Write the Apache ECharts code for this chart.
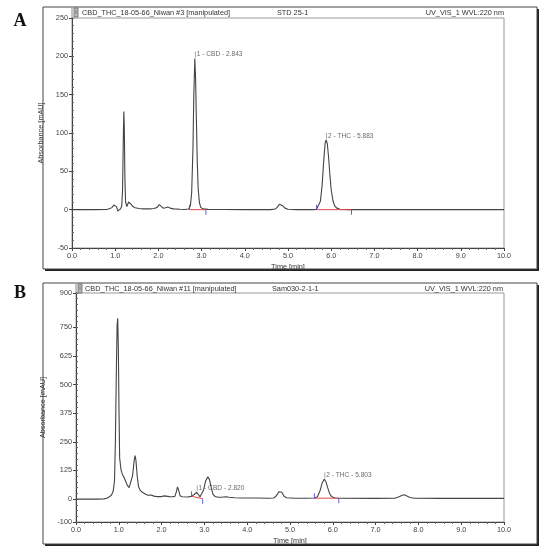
<!DOCTYPE html>
<html><head><meta charset="utf-8">
<script src="https://cdn.jsdelivr.net/npm/echarts@6/dist/echarts.min.js"></script>
<style>html,body{margin:0;padding:0;background:#fff}#c{width:550px;height:553px}</style>
</head><body><div id="c"></div>
<script>
// ---------- Panel A (STD 25-1) ----------
const timeA = [0.0,0.5,0.80,0.88,0.93,0.97,1.00,1.03,1.06,1.09,1.12,1.15,1.17,1.19,1.20,1.21,1.225,1.24,1.27,1.31,1.34,1.37,1.41,1.46,1.55,1.65,1.80,1.90,1.97,2.02,2.06,2.11,2.16,2.22,2.27,2.35,2.50,2.60,2.70,2.74,2.77,2.80,2.82,2.843,2.86,2.88,2.90,2.92,2.95,2.98,3.03,3.15,3.5,4.0,4.6,4.70,4.75,4.80,4.84,4.88,4.93,5.00,5.20,5.60,5.66,5.70,5.75,5.79,5.83,5.86,5.883,5.91,5.94,5.97,6.00,6.04,6.08,6.13,6.20,6.40,7.0,8.0,9.0,10.0];
const absA  = [0,0,0.3,1.5,3,6,8.5,4,-2,-1,1,4,25,100,128,110,40,10,4,10,11,7,4,2.5,1.5,1,1,1.5,3,6.5,5,2,2.5,3.5,2,1,0.5,0.3,0.8,5,22,80,150,197,172,115,62,28,9,3,1,0.4,0.2,0,0,0.8,3,7,8,5,2,0.5,0,0,0.5,2.5,11,32,66,87,91,86,68,45,26,12,5,2,0.5,0,0,0,0,0];
const peakNamesA = ['1 - CBD - 2.843','2 - THC - 5.883'];
const peakTimesA = [2.843, 5.883];
const peakAbsA   = [197, 91];
const baseStartA = [[2.72,0],[5.66,0]];
const baseEndA   = [[3.10,0],[6.47,0]];
const yTicksA = [-50,0,50,100,150,200,250];

// ---------- Panel B (Sam030-2-1-1) ----------
const timeB = [0.0,0.5,0.65,0.72,0.78,0.83,0.87,0.90,0.92,0.94,0.96,0.975,0.99,1.005,1.02,1.05,1.08,1.12,1.16,1.20,1.24,1.28,1.32,1.36,1.38,1.40,1.43,1.46,1.50,1.55,1.62,1.68,1.72,1.76,1.82,1.90,2.00,2.06,2.10,2.18,2.25,2.31,2.35,2.37,2.40,2.43,2.48,2.60,2.70,2.76,2.80,2.82,2.85,2.90,2.94,2.98,3.03,3.08,3.12,3.16,3.20,3.25,3.32,3.40,3.50,3.58,3.70,3.90,4.20,4.50,4.62,4.68,4.74,4.77,4.81,4.86,4.92,5.10,5.40,5.58,5.64,5.70,5.75,5.80,5.84,5.88,5.93,5.98,6.05,6.20,7.00,7.45,7.55,7.62,7.67,7.73,7.80,7.90,8.5,9.0,10.0];
const absB  = [0,0,1,4,10,18,35,80,250,520,760,790,650,380,180,130,110,95,78,60,50,58,100,170,190,170,100,55,38,30,22,17,21,18,13,11,11,14,12,11,10,12,35,53,38,15,10,9,12,20,28,30,24,10,12,40,80,97,85,50,22,11,8,8,10,8,6,5,5,4,5,14,32,38,30,12,6,4,4,5,10,35,70,87,76,50,22,10,5,4,3,4,10,17,19,14,7,4,3,3,3];
const peakNamesB = ['1 - CBD - 2.820','2 - THC - 5.803'];
const peakTimesB = [2.820, 5.803];
const peakAbsB   = [30, 87];
const baseStartB = [[2.70,12],[5.57,4]];
const baseEndB   = [[2.96,2],[6.14,4]];
const yTicksB = [-100,0,125,250,375,500,625,750,900];

const xTickLabels = ['0.0','1.0','2.0','3.0','4.0','5.0','6.0','7.0','8.0','9.0','10.0'];

const FONT = 'Liberation Sans';
const lineCol = '#444';
const axisCol = '#444';

function zip(a,b){return a.map((t,i)=>[t,b[i]]);}

function xAxisCfg(gi){
  return {
    type:'value', gridIndex:gi, min:0, max:10, interval:1,
    name:'Time [min]', nameLocation:'middle', nameGap:15,
    nameTextStyle:{fontSize:7.3, color:'#333', fontFamily:FONT},
    axisLine:{onZero:false, lineStyle:{color:axisCol, width:1}},
    axisTick:{show:true, length:3, lineStyle:{color:axisCol}},
    minorTick:{show:true, splitNumber:5, length:2, lineStyle:{color:'#666'}},
    axisLabel:{fontSize:7.3, color:'#444', margin:4, fontFamily:FONT,
      formatter:(v)=>xTickLabels[Math.round(v)]},
    splitLine:{show:false}
  };
}
function yAxisCfg(gi, min, max, ticks){
  return {
    type:'value', gridIndex:gi, min:min, max:max,
    name:'Absorbance [mAU]', nameLocation:'middle', nameGap:24,
    nameTextStyle:{fontSize:7.3, color:'#333', fontFamily:FONT},
    axisLine:{show:true, onZero:false, lineStyle:{color:axisCol, width:1}},
    axisTick:{show:true, length:3, customValues:ticks, lineStyle:{color:axisCol}},
    axisLabel:{fontSize:7.3, color:'#444', margin:4, fontFamily:FONT, customValues:ticks},
    splitLine:{show:false}
  };
}
function yMinorCfg(gi, min, max, step){
  return {
    type:'value', gridIndex:gi, min:min, max:max, interval:step,
    axisLine:{show:false}, axisLabel:{show:false}, splitLine:{show:false},
    axisTick:{show:true, length:2, lineStyle:{color:'#666'}}
  };
}

function panelSeries(xi, yi, times, abs, names, pt, pa, bs, be){
  const s = [];
  // chromatogram trace
  s.push({type:'line', xAxisIndex:xi, yAxisIndex:yi, data:zip(times,abs), showSymbol:false,
    lineStyle:{color:lineCol, width:1.1}, silent:true, z:3});
  // integration baselines (red)
  for(let i=0;i<bs.length;i++){
    s.push({type:'line', xAxisIndex:xi, yAxisIndex:yi, data:[bs[i],be[i]], showSymbol:false,
      lineStyle:{color:'#e04848', width:1}, silent:true, z:4});
  }
  // peak start markers (blue, above) and end markers (blue, below)
  s.push({type:'scatter', xAxisIndex:xi, yAxisIndex:yi, data:bs, symbol:'rect',
    symbolSize:[1,5], symbolOffset:[0,-2.5], itemStyle:{color:'#3c3ccc'}, silent:true, z:5});
  s.push({type:'scatter', xAxisIndex:xi, yAxisIndex:yi, data:be, symbol:'rect',
    symbolSize:[1,5], symbolOffset:[0,2.5], itemStyle:{color:'#3c3ccc'}, silent:true, z:5});
  // peak labels
  s.push({type:'scatter', xAxisIndex:xi, yAxisIndex:yi,
    data:pt.map((t,i)=>({value:[t,pa[i]], name:names[i]})),
    symbol:'rect', symbolSize:[0.8,6], symbolOffset:[0.5,-4], itemStyle:{color:'#777'},
    label:{show:true, position:'right', distance:1, formatter:(p)=>p.name,
      fontSize:6.6, color:'#444', fontFamily:FONT},
    silent:true, z:6});
  return s;
}

const chart = echarts.init(document.getElementById('c'), null, {renderer:'canvas'});

function frame(x,y,w,h){
  return [
    {type:'rect', shape:{x:x+2,y:y+2,width:w,height:h}, style:{fill:'#222'}, z:-10, silent:true},
    {type:'rect', shape:{x:x,y:y,width:w,height:h}, style:{fill:'#fff', stroke:'#444', lineWidth:1}, z:-9, silent:true}
  ];
}
function hdrText(x,y,text,align){
  return {type:'text', x:x, y:y, z:10, silent:true,
    style:{text:text, fontSize:7.3, fill:'#333', fontFamily:FONT, align:align||'left', verticalAlign:'middle'}};
}
function icon(x,y){
  return [
    {type:'rect', shape:{x:x,y:y,width:4,height:9}, style:{fill:'#bbb', stroke:'#666', lineWidth:0.8}, z:10, silent:true},
    {type:'line', shape:{x1:x+1,y1:y+3,x2:x+3,y2:y+3}, style:{stroke:'#555', lineWidth:0.6}, z:11, silent:true},
    {type:'line', shape:{x1:x+1,y1:y+5,x2:x+3,y2:y+5}, style:{stroke:'#555', lineWidth:0.6}, z:11, silent:true}
  ];
}

const graphics = [].concat(
  frame(43,7,494,262),
  frame(43,283,494,261),
  [
    {type:'line', shape:{x1:72,y1:8,x2:72,y2:18}, style:{stroke:'#888', lineWidth:1}, z:10, silent:true},
    {type:'line', shape:{x1:76,y1:284,x2:76,y2:293}, style:{stroke:'#888', lineWidth:1}, z:10, silent:true}
  ],
  icon(74,8), icon(78,284),
  [
    hdrText(82,13,'CBD_THC_18-05-66_Niwan #3 [manipulated]'),
    hdrText(277,13,'STD 25-1'),
    hdrText(504,13,'UV_VIS_1 WVL:220 nm','right'),
    hdrText(85,289,'CBD_THC_18-05-66_Niwan #11 [manipulated]'),
    hdrText(272,289,'Sam030-2-1-1'),
    hdrText(503,289,'UV_VIS_1 WVL:220 nm','right'),
    {type:'text', x:20, y:21, z:10, silent:true,
      style:{text:'A', fontSize:18, fontWeight:'bold', fill:'#111', fontFamily:'Liberation Serif', align:'center', verticalAlign:'middle'}},
    {type:'text', x:20, y:293, z:10, silent:true,
      style:{text:'B', fontSize:18, fontWeight:'bold', fill:'#111', fontFamily:'Liberation Serif', align:'center', verticalAlign:'middle'}}
  ]
);

const option = {
  animation:false,
  backgroundColor:'#fff',
  grid:[
    {left:72, top:18, width:432, height:230, show:true, borderColor:'#999', borderWidth:1, backgroundColor:'transparent'},
    {left:76, top:293, width:428, height:229, show:true, borderColor:'#999', borderWidth:1, backgroundColor:'transparent'}
  ],
  xAxis:[xAxisCfg(0), xAxisCfg(1)],
  yAxis:[
    yAxisCfg(0,-50,250,yTicksA),
    yAxisCfg(1,-100,900,yTicksB),
    yMinorCfg(0,-50,250,10),
    yMinorCfg(1,-100,900,25)
  ],
  series:[].concat(
    panelSeries(0,0,timeA,absA,peakNamesA,peakTimesA,peakAbsA,baseStartA,baseEndA),
    panelSeries(1,1,timeB,absB,peakNamesB,peakTimesB,peakAbsB,baseStartB,baseEndB)
  ),
  graphic:graphics
};
chart.setOption(option);
</script>
</body></html>
